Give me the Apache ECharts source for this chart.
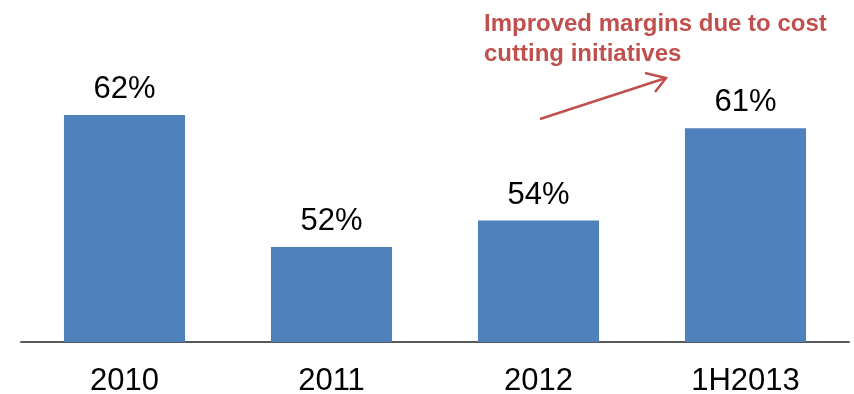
<!DOCTYPE html>
<html>
<head>
<meta charset="utf-8">
<script src="https://cdn.jsdelivr.net/npm/echarts@6/dist/echarts.min.js"></script>
<style>
  html, body { margin: 0; padding: 0; background: #fff; }
  #chart { width: 854px; height: 394px; }
</style>
</head>
<body>
<div id="chart"></div>
<script>
// Gross margin by period
const categories = ['2010', '2011', '2012', '1H2013'];
const marginValues = [62, 52, 54, 61];
const noteLines = ['Improved margins due to cost', 'cutting initiatives'];

const chart = echarts.init(document.getElementById('chart'), null, { renderer: 'canvas' });

chart.setOption({
  animation: false,
  backgroundColor: '#ffffff',
  grid: { left: 21, right: 5, top: 12, bottom: 52, containLabel: false, outerBoundsMode: 'none' },
  xAxis: {
    type: 'category',
    data: categories,
    axisLine: { show: true, lineStyle: { color: '#595959', width: 2 } },
    axisTick: { show: false },
    axisLabel: {
      color: '#000000',
      fontFamily: 'Liberation Sans, Arial, sans-serif',
      fontSize: 31,
      margin: 24
    }
  },
  yAxis: {
    type: 'value',
    min: 44.8,
    max: 69.8,
    show: false,
    splitLine: { show: false }
  },
  series: [{
    type: 'bar',
    data: marginValues,
    barCategoryGap: '41.5%',
    itemStyle: { color: '#4F81BD' },
    label: {
      show: true,
      position: 'top',
      distance: 10,
      color: '#000000',
      fontFamily: 'Liberation Sans, Arial, sans-serif',
      fontSize: 31,
      formatter: p => p.value + '%'
    }
  }],
  graphic: [
    {
      type: 'text',
      left: 484,
      top: 9,
      style: {
        text: noteLines.join('\n'),
        fill: '#C0504D',
        font: 'bold 24px "Liberation Sans", Arial, sans-serif',
        lineHeight: 30
      }
    },
    {
      type: 'line',
      shape: { x1: 540, y1: 119, x2: 666, y2: 78 },
      style: { stroke: '#C0504D', lineWidth: 2.5 }
    },
    {
      type: 'polyline',
      shape: { points: [[645, 73], [666, 78], [655, 92]] },
      style: { stroke: '#C0504D', lineWidth: 2.5, fill: null, lineJoin: 'miter' }
    }
  ]
});
</script>
</body>
</html>
